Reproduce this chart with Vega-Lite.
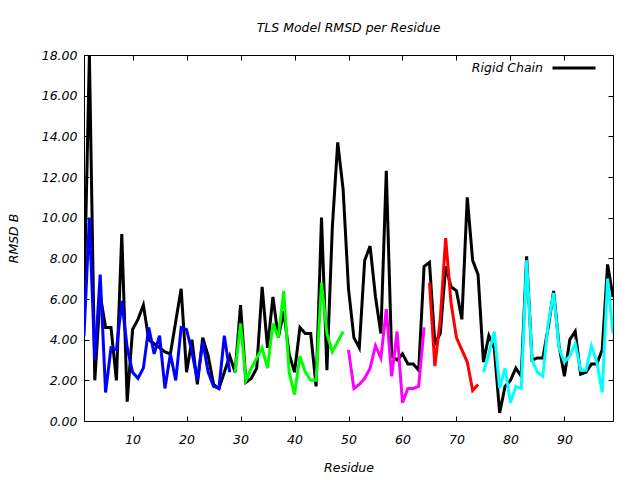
{
  "$schema": "https://vega.github.io/schema/vega-lite/v6.json",
  "width": 529,
  "height": 366,
  "autosize": "none",
  "padding": {"left": 84, "top": 55, "right": 27, "bottom": 59},
  "background": "white",
  "title": {"text": "TLS Model RMSD per Residue", "font": "DejaVu Sans", "fontStyle": "italic", "fontWeight": "normal", "fontSize": 12.5, "color": "black", "offset": 11},
  "config": {
    "view": {"stroke": "black", "strokeWidth": 1},
    "axis": {"grid": false, "domain": false, "tickColor": "black", "tickSize": -5, "labelFont": "DejaVu Sans", "labelFontStyle": "italic", "labelFontSize": 12.5, "labelColor": "black", "titleFont": "DejaVu Sans", "titleFontStyle": "italic", "titleFontWeight": "normal", "titleFontSize": 12.5, "titleColor": "black"},
    "legend": {"labelFont": "DejaVu Sans", "labelFontStyle": "italic", "labelFontSize": 12.5, "labelColor": "black"}
  },
  "data": {"values": [
    {"r":1,"v":5.6,"s":"Rigid Chain"},{"r":2,"v":18.0,"s":"Rigid Chain"},{"r":3,"v":2.0,"s":"Rigid Chain"},{"r":4,"v":6.2,"s":"Rigid Chain"},{"r":5,"v":4.6,"s":"Rigid Chain"},{"r":6,"v":4.6,"s":"Rigid Chain"},{"r":7,"v":2.0,"s":"Rigid Chain"},{"r":8,"v":9.2,"s":"Rigid Chain"},{"r":9,"v":0.95,"s":"Rigid Chain"},{"r":10,"v":4.5,"s":"Rigid Chain"},
    {"r":11,"v":5.0,"s":"Rigid Chain"},{"r":12,"v":5.7,"s":"Rigid Chain"},{"r":13,"v":4.0,"s":"Rigid Chain"},{"r":14,"v":3.8,"s":"Rigid Chain"},{"r":15,"v":3.6,"s":"Rigid Chain"},{"r":16,"v":3.4,"s":"Rigid Chain"},{"r":17,"v":3.3,"s":"Rigid Chain"},{"r":18,"v":4.9,"s":"Rigid Chain"},{"r":19,"v":6.5,"s":"Rigid Chain"},{"r":20,"v":2.4,"s":"Rigid Chain"},
    {"r":21,"v":4.0,"s":"Rigid Chain"},{"r":22,"v":1.8,"s":"Rigid Chain"},{"r":23,"v":4.1,"s":"Rigid Chain"},{"r":24,"v":3.2,"s":"Rigid Chain"},{"r":25,"v":1.8,"s":"Rigid Chain"},{"r":26,"v":1.6,"s":"Rigid Chain"},{"r":27,"v":2.4,"s":"Rigid Chain"},{"r":28,"v":3.2,"s":"Rigid Chain"},{"r":29,"v":2.4,"s":"Rigid Chain"},{"r":30,"v":5.7,"s":"Rigid Chain"},
    {"r":31,"v":1.9,"s":"Rigid Chain"},{"r":32,"v":2.1,"s":"Rigid Chain"},{"r":33,"v":2.6,"s":"Rigid Chain"},{"r":34,"v":6.6,"s":"Rigid Chain"},{"r":35,"v":3.6,"s":"Rigid Chain"},{"r":36,"v":6.1,"s":"Rigid Chain"},{"r":37,"v":4.1,"s":"Rigid Chain"},{"r":38,"v":5.4,"s":"Rigid Chain"},{"r":39,"v":3.3,"s":"Rigid Chain"},{"r":40,"v":2.4,"s":"Rigid Chain"},
    {"r":41,"v":4.6,"s":"Rigid Chain"},{"r":42,"v":4.3,"s":"Rigid Chain"},{"r":43,"v":4.3,"s":"Rigid Chain"},{"r":44,"v":1.7,"s":"Rigid Chain"},{"r":45,"v":10.0,"s":"Rigid Chain"},{"r":46,"v":2.5,"s":"Rigid Chain"},{"r":47,"v":9.5,"s":"Rigid Chain"},{"r":48,"v":13.7,"s":"Rigid Chain"},{"r":49,"v":11.4,"s":"Rigid Chain"},{"r":50,"v":6.5,"s":"Rigid Chain"},
    {"r":51,"v":4.1,"s":"Rigid Chain"},{"r":52,"v":3.6,"s":"Rigid Chain"},{"r":53,"v":7.9,"s":"Rigid Chain"},{"r":54,"v":8.6,"s":"Rigid Chain"},{"r":55,"v":6.1,"s":"Rigid Chain"},{"r":56,"v":4.3,"s":"Rigid Chain"},{"r":57,"v":12.3,"s":"Rigid Chain"},{"r":58,"v":3.2,"s":"Rigid Chain"},{"r":59,"v":3.0,"s":"Rigid Chain"},{"r":60,"v":3.3,"s":"Rigid Chain"},
    {"r":61,"v":2.8,"s":"Rigid Chain"},{"r":62,"v":2.8,"s":"Rigid Chain"},{"r":63,"v":2.5,"s":"Rigid Chain"},{"r":64,"v":7.6,"s":"Rigid Chain"},{"r":65,"v":7.8,"s":"Rigid Chain"},{"r":66,"v":3.8,"s":"Rigid Chain"},{"r":67,"v":4.3,"s":"Rigid Chain"},{"r":68,"v":7.6,"s":"Rigid Chain"},{"r":69,"v":6.6,"s":"Rigid Chain"},{"r":70,"v":6.4,"s":"Rigid Chain"},
    {"r":71,"v":5.0,"s":"Rigid Chain"},{"r":72,"v":11.0,"s":"Rigid Chain"},{"r":73,"v":7.9,"s":"Rigid Chain"},{"r":74,"v":7.2,"s":"Rigid Chain"},{"r":75,"v":2.9,"s":"Rigid Chain"},{"r":76,"v":4.2,"s":"Rigid Chain"},{"r":77,"v":3.6,"s":"Rigid Chain"},{"r":78,"v":0.4,"s":"Rigid Chain"},{"r":79,"v":1.7,"s":"Rigid Chain"},{"r":80,"v":2.0,"s":"Rigid Chain"},
    {"r":81,"v":2.6,"s":"Rigid Chain"},{"r":82,"v":2.2,"s":"Rigid Chain"},{"r":83,"v":8.1,"s":"Rigid Chain"},{"r":84,"v":3.0,"s":"Rigid Chain"},{"r":85,"v":3.1,"s":"Rigid Chain"},{"r":86,"v":3.1,"s":"Rigid Chain"},{"r":87,"v":4.6,"s":"Rigid Chain"},{"r":88,"v":6.4,"s":"Rigid Chain"},{"r":89,"v":3.7,"s":"Rigid Chain"},{"r":90,"v":2.2,"s":"Rigid Chain"},
    {"r":91,"v":4.0,"s":"Rigid Chain"},{"r":92,"v":4.4,"s":"Rigid Chain"},{"r":93,"v":2.3,"s":"Rigid Chain"},{"r":94,"v":2.4,"s":"Rigid Chain"},{"r":95,"v":2.8,"s":"Rigid Chain"},{"r":96,"v":2.8,"s":"Rigid Chain"},{"r":97,"v":3.5,"s":"Rigid Chain"},{"r":98,"v":7.7,"s":"Rigid Chain"},{"r":99,"v":6.1,"s":"Rigid Chain"},
    {"r":1,"v":4.2,"s":"A"},{"r":2,"v":10.0,"s":"A"},{"r":3,"v":3.0,"s":"A"},{"r":4,"v":7.2,"s":"A"},{"r":5,"v":1.4,"s":"A"},{"r":6,"v":3.6,"s":"A"},{"r":7,"v":3.5,"s":"A"},{"r":8,"v":5.9,"s":"A"},{"r":9,"v":3.6,"s":"A"},{"r":10,"v":2.4,"s":"A"},
    {"r":11,"v":2.1,"s":"A"},{"r":12,"v":2.6,"s":"A"},{"r":13,"v":4.6,"s":"A"},{"r":14,"v":3.3,"s":"A"},{"r":15,"v":4.2,"s":"A"},{"r":16,"v":1.6,"s":"A"},{"r":17,"v":3.3,"s":"A"},{"r":18,"v":2.0,"s":"A"},{"r":19,"v":4.6,"s":"A"},{"r":20,"v":4.5,"s":"A"},
    {"r":21,"v":3.4,"s":"A"},{"r":22,"v":2.0,"s":"A"},{"r":23,"v":3.9,"s":"A"},{"r":24,"v":2.4,"s":"A"},{"r":25,"v":1.7,"s":"A"},{"r":26,"v":1.6,"s":"A"},{"r":27,"v":4.2,"s":"A"},{"r":28,"v":2.4,"s":"A"},
    {"r":29,"v":2.4,"s":"B"},{"r":30,"v":4.8,"s":"B"},{"r":31,"v":2.0,"s":"B"},{"r":32,"v":2.6,"s":"B"},{"r":33,"v":3.1,"s":"B"},{"r":34,"v":3.6,"s":"B"},{"r":35,"v":2.6,"s":"B"},{"r":36,"v":4.8,"s":"B"},{"r":37,"v":4.1,"s":"B"},{"r":38,"v":6.4,"s":"B"},
    {"r":39,"v":2.4,"s":"B"},{"r":40,"v":1.3,"s":"B"},{"r":41,"v":3.2,"s":"B"},{"r":42,"v":2.4,"s":"B"},{"r":43,"v":2.0,"s":"B"},{"r":44,"v":2.0,"s":"B"},{"r":45,"v":6.8,"s":"B"},{"r":46,"v":4.3,"s":"B"},{"r":47,"v":3.4,"s":"B"},{"r":48,"v":3.9,"s":"B"},{"r":49,"v":4.4,"s":"B"},
    {"r":50,"v":3.5,"s":"C"},{"r":51,"v":1.6,"s":"C"},{"r":52,"v":1.8,"s":"C"},{"r":53,"v":2.1,"s":"C"},{"r":54,"v":2.6,"s":"C"},{"r":55,"v":3.7,"s":"C"},{"r":56,"v":3.1,"s":"C"},{"r":57,"v":5.5,"s":"C"},{"r":58,"v":2.2,"s":"C"},{"r":59,"v":4.4,"s":"C"},
    {"r":60,"v":0.9,"s":"C"},{"r":61,"v":1.6,"s":"C"},{"r":62,"v":1.6,"s":"C"},{"r":63,"v":1.7,"s":"C"},{"r":64,"v":4.6,"s":"C"},
    {"r":65,"v":6.8,"s":"D"},{"r":66,"v":2.7,"s":"D"},{"r":67,"v":5.0,"s":"D"},{"r":68,"v":9.0,"s":"D"},{"r":69,"v":5.8,"s":"D"},{"r":70,"v":4.1,"s":"D"},{"r":71,"v":3.5,"s":"D"},{"r":72,"v":2.9,"s":"D"},{"r":73,"v":1.5,"s":"D"},{"r":74,"v":1.8,"s":"D"},
    {"r":75,"v":2.4,"s":"E"},{"r":76,"v":3.3,"s":"E"},{"r":77,"v":4.4,"s":"E"},{"r":78,"v":1.6,"s":"E"},{"r":79,"v":2.6,"s":"E"},{"r":80,"v":0.9,"s":"E"},{"r":81,"v":1.7,"s":"E"},{"r":82,"v":1.6,"s":"E"},{"r":83,"v":7.9,"s":"E"},{"r":84,"v":3.0,"s":"E"},
    {"r":85,"v":2.4,"s":"E"},{"r":86,"v":2.2,"s":"E"},{"r":87,"v":4.8,"s":"E"},{"r":88,"v":6.3,"s":"E"},{"r":89,"v":3.6,"s":"E"},{"r":90,"v":2.9,"s":"E"},{"r":91,"v":3.2,"s":"E"},{"r":92,"v":3.8,"s":"E"},{"r":93,"v":2.5,"s":"E"},{"r":94,"v":2.5,"s":"E"},
    {"r":95,"v":3.7,"s":"E"},{"r":96,"v":2.9,"s":"E"},{"r":97,"v":1.4,"s":"E"},{"r":98,"v":7.0,"s":"E"},{"r":99,"v":4.3,"s":"E"}
  ]},
  "layer": [
    {
      "transform": [{"filter": "datum.s === 'Rigid Chain'"}],
      "mark": {"type": "line", "strokeWidth": 3, "clip": true},
      "encoding": {
        "x": {"field": "r", "type": "quantitative", "scale": {"domain": [1, 99], "nice": false, "zero": false}, "axis": {"title": "Residue", "values": [10,20,30,40,50,60,70,80,90], "labelPadding": 17, "titlePadding": 16}},
        "y": {"field": "v", "type": "quantitative", "scale": {"domain": [0, 18], "nice": false}, "axis": {"title": "RMSD B", "values": [0,2,4,6,8,10,12,14,16,18], "format": ".2f", "labelPadding": 12, "titlePadding": 21}},
        "color": {"field": "s", "type": "nominal", "scale": {"domain": ["Rigid Chain"], "range": ["black"]}, "legend": {"title": null, "orient": "none", "legendX": 467, "legendY": -10, "padding": 0, "symbolType": "stroke", "symbolStrokeWidth": 3, "symbolSize": 1849, "labelAlign": "right", "labelOffset": -54}}
      }
    },
    {
      "transform": [{"filter": "datum.s !== 'Rigid Chain'"}],
      "mark": {"type": "line", "strokeWidth": 3, "clip": true},
      "encoding": {
        "x": {"field": "r", "type": "quantitative", "axis": {"orient": "top", "title": null, "labels": false, "values": [10,20,30,40,50,60,70,80,90]}},
        "y": {"field": "v", "type": "quantitative", "axis": {"orient": "right", "title": null, "labels": false, "values": [0,2,4,6,8,10,12,14,16,18]}},
        "color": {"field": "s", "type": "nominal", "scale": {"domain": ["A","B","C","D","E"], "range": ["#0000ff","#00ff00","#ff00ff","#ff0000","#00ffff"]}, "legend": null}
      }
    }
  ],
  "resolve": {"axis": {"x": "independent", "y": "independent"}, "scale": {"color": "independent"}}
}
